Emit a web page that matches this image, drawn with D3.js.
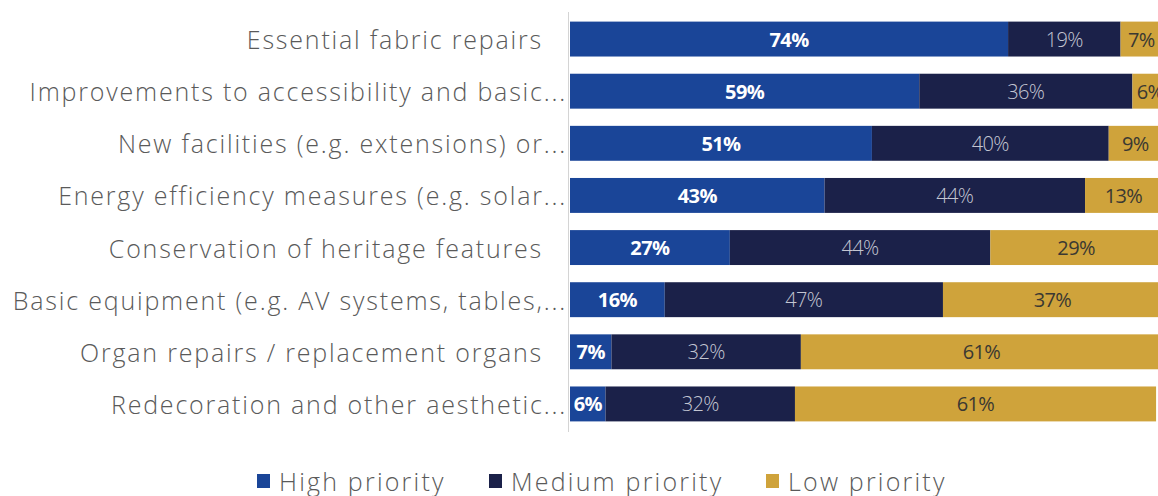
<!DOCTYPE html>
<html>
<head>
<meta charset="utf-8">
<script src="https://cdn.jsdelivr.net/npm/d3@7"></script>
<style>
  html, body { margin: 0; padding: 0; background: #fff; }
  svg { display: block; }
  text { font-family: "Open Sans", "Noto Sans", sans-serif; }
</style>
</head>
<body>
<svg id="chart" width="1158" height="496"></svg>
<script>
// Priority of building works, share of respondents (%)
const categories = [
  "Essential fabric repairs",
  "Improvements to accessibility and basic...",
  "New facilities (e.g. extensions) or...",
  "Energy efficiency measures (e.g. solar...",
  "Conservation of heritage features",
  "Basic equipment (e.g. AV systems, tables,...",
  "Organ repairs / replacement organs",
  "Redecoration and other aesthetic..."
];
const truncated = [false, true, true, true, false, true, false, true];
const seriesNames = ["High priority", "Medium priority", "Low priority"];
const highPriority   = [74, 59, 51, 43, 27, 16, 7, 6];
const mediumPriority = [19, 36, 40, 44, 44, 47, 32, 32];
const lowPriority    = [7, 6, 9, 13, 29, 37, 61, 61];

const colors = ["#1a4598", "#1b2149", "#cfa33b"];
const labelColors = ["#ffffff", "#c3c6d2", "#3a3832"];
const labelWeights = [700, 300, 400];

const rows = categories.map((c, i) => ({
  category: c,
  "High priority": highPriority[i],
  "Medium priority": mediumPriority[i],
  "Low priority": lowPriority[i]
}));

const svg = d3.select("#chart");

const x = d3.scaleLinear().domain([0, 100]).range([570, 1162]);
const y = d3.scaleBand().domain(categories).range([13, 430])
  .paddingInner(0.33).paddingOuter(0.165);

const stacked = d3.stack().keys(seriesNames)(rows);

// value axis baseline
svg.append("line")
  .attr("x1", 568.5).attr("x2", 568.5)
  .attr("y1", 12).attr("y2", 432)
  .attr("stroke", "#d4d4d4").attr("stroke-width", 1);

// stacked bars
const layers = svg.append("g").selectAll("g")
  .data(stacked).join("g")
  .attr("fill", (d, i) => colors[i]);

layers.selectAll("rect")
  .data(d => d.map(v => ({ v, cat: v.data.category })))
  .join("rect")
  .attr("x", d => x(d.v[0]))
  .attr("width", d => x(d.v[1]) - x(d.v[0]))
  .attr("y", d => y(d.cat))
  .attr("height", y.bandwidth());

// segment value labels
stacked.forEach((layer, si) => {
  svg.append("g").selectAll("text")
    .data(layer).join("text")
    .attr("x", d => (x(d[0]) + x(d[1])) / 2)
    .attr("y", d => y(d.data.category) + y.bandwidth() / 2)
    .attr("text-anchor", "middle")
    .attr("dominant-baseline", "central")
    .attr("font-size", 20)
    .attr("letter-spacing", -0.6)
    .attr("font-weight", labelWeights[si])
    .attr("fill", labelColors[si])
    .text(d => (d[1] - d[0]) + "%");
});

// category labels
svg.append("g").selectAll("text")
  .data(categories).join("text")
  .attr("x", (d, i) => truncated[i] ? 567 : 543)
  .attr("y", d => y(d) + y.bandwidth() / 2)
  .attr("text-anchor", "end")
  .attr("dominant-baseline", "central")
  .attr("font-size", 25)
  .attr("font-weight", 300)
  .attr("letter-spacing", 1.8)
  .attr("fill", "#5a5a5a")
  .text(d => d);

// legend
const legendItems = [
  { name: seriesNames[0], x: 257 },
  { name: seriesNames[1], x: 489 },
  { name: seriesNames[2], x: 766 }
];
const legend = svg.append("g").selectAll("g")
  .data(legendItems).join("g")
  .attr("transform", d => `translate(${d.x},481)`);
legend.append("rect")
  .attr("x", 0).attr("y", -7).attr("width", 13).attr("height", 14)
  .attr("fill", (d, i) => colors[i]);
legend.append("text")
  .attr("x", 22).attr("y", 0)
  .attr("dominant-baseline", "central")
  .attr("font-size", 25)
  .attr("font-weight", 300)
  .attr("letter-spacing", 2.2)
  .attr("fill", "#5a5a5a")
  .text(d => d.name);
</script>
</body>
</html>
